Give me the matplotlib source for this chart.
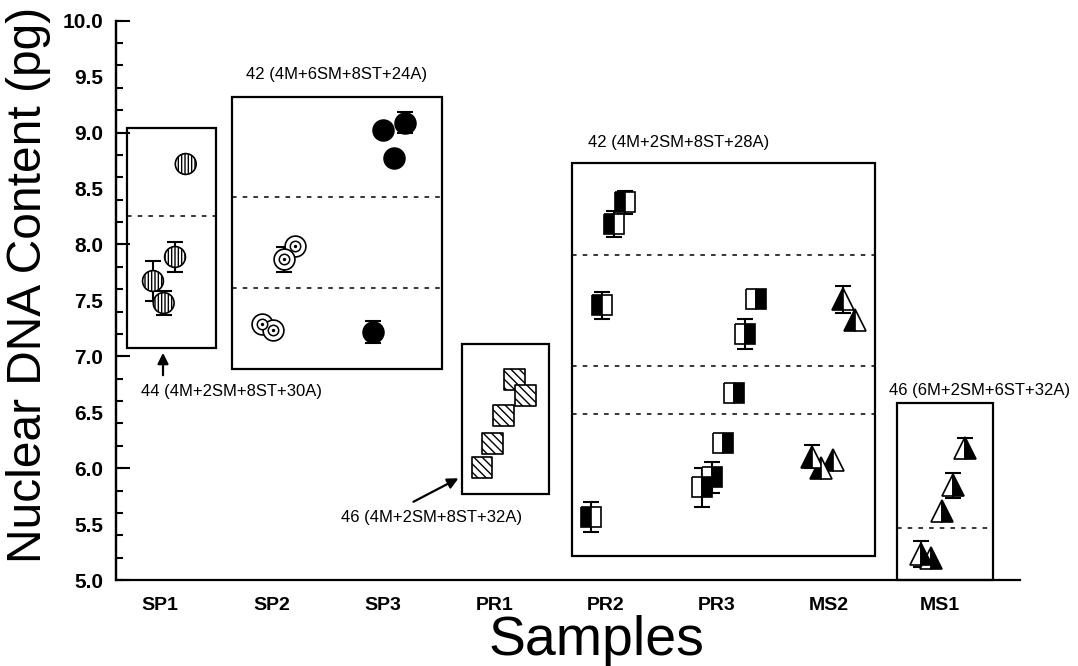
import numpy as np
import matplotlib
matplotlib.use("Agg")
import matplotlib.pyplot as plt
from matplotlib.patches import Rectangle

plt.rcParams['font.family'] = ['Liberation Sans', 'DejaVu Sans']
plt.rcParams['hatch.linewidth'] = 1.0

# ---------------- data ----------------
categories = ["SP1", "SP2", "SP3", "PR1", "PR2", "PR3", "MS2", "MS1"]

sp1_x = [0.231, 0.135, -0.063, 0.033]
sp1_y = [8.719, 7.888, 7.673, 7.476]
sp1_err = [0.0, 0.13, 0.183, 0.107]

sp2_x = [1.212, 1.116, 0.918, 1.014]
sp2_y = [7.986, 7.867, 7.286, 7.235]
sp2_err = [0.0, 0.112, 0.0, 0.0]

sp3_x = [2.004, 2.199, 2.100, 1.909]
sp3_y = [9.020, 9.088, 8.770, 7.220]
sp3_err = [0.0, 0.094, 0.0, 0.098]

pr1_x = [3.183, 3.282, 3.084, 2.986, 2.890]
pr1_y = [6.791, 6.648, 6.469, 6.218, 6.004]

pr2_x = [4.173, 4.072, 3.969, 3.871]
pr2_y = [8.377, 8.185, 7.456, 5.566]
pr2_err = [0.104, 0.116, 0.119, 0.134]

pr3_x = [5.349, 5.250, 5.151, 5.052, 4.861, 4.957]
pr3_y = [7.512, 7.199, 6.669, 6.222, 5.829, 5.918]
pr3_err = [0.0, 0.134, 0.0, 0.0, 0.176, 0.139]

ms2_x = [6.132, 6.237, 5.849, 5.938, 6.037]
ms2_y = [7.508, 7.324, 6.102, 5.999, 6.073]
ms2_err = [0.123, 0.0, 0.104, 0.0, 0.0]

ms1_x = [7.224, 7.119, 7.024, 6.827, 6.925]
ms1_y = [6.177, 5.845, 5.614, 5.234, 5.194]
ms1_err = [0.09, 0.114, 0.0, 0.114, 0.0]

# group boxes: (x0, x1, y0, y1), dashed divider levels
boxes = [
    ((-0.296, 0.503, 7.074, 9.041), [8.254]),
    ((0.646, 2.531, 6.886, 9.318), [8.424, 7.610]),
    ((2.710, 3.491, 5.769, 7.110), []),
    ((3.697, 6.417, 5.215, 8.728), [7.905, 6.913, 6.484]),
    ((6.614, 7.476, 5.0, 6.582), [5.465]),
]
karyotype_labels = ["42 (4M+6SM+8ST+24A)", "42 (4M+2SM+8ST+28A)",
                    "44 (4M+2SM+8ST+30A)", "46 (4M+2SM+8ST+32A)",
                    "46 (6M+2SM+6ST+32A)"]

# ---------------- figure ----------------
fig = plt.figure(figsize=(10.78, 6.66), dpi=100)
ax = fig.add_axes([0.1076, 0.1291, 0.8386, 0.8398])
ax.set_xlim(-0.395, 7.72)
ax.set_ylim(5.0, 10.0)

for s in ['top', 'right']:
    ax.spines[s].set_visible(False)
for s in ['left', 'bottom']:
    ax.spines[s].set_linewidth(1.6)

# boxes
for (x0, x1, y0, y1), dashes in boxes:
    ax.add_patch(Rectangle((x0, y0), x1 - x0, y1 - y0, fill=False,
                           edgecolor='black', linewidth=1.6, zorder=2,
                           clip_on=False))
    for d in dashes:
        ax.plot([x0, x1], [d, d], color='black', linewidth=1.1,
                linestyle=(0, (3, 4)), zorder=2)

def ebars(x, y, e):
    x = np.asarray(x); y = np.asarray(y); e = np.asarray(e)
    m = e > 0
    if m.any():
        ax.errorbar(x[m], y[m], yerr=e[m], fmt='none', ecolor='black',
                    elinewidth=1.5, capsize=6, capthick=1.5, zorder=3)

MS = 15

# SP1 - vertically hatched circles
ebars(sp1_x, sp1_y, sp1_err)
ax.scatter(sp1_x, sp1_y, s=MS**2, marker='o', facecolors='white',
           edgecolors='black', hatch='|||||', linewidths=1.2, zorder=4)

# SP2 - concentric circles
ebars(sp2_x, sp2_y, sp2_err)
ax.scatter(sp2_x, sp2_y, s=MS**2, marker='o', facecolors='white',
           edgecolors='black', linewidths=1.2, zorder=4)
ax.scatter(sp2_x, sp2_y, s=7.5**2, marker='o', facecolors='white',
           edgecolors='black', linewidths=1.1, zorder=5)
ax.scatter(sp2_x, sp2_y, s=2.0, marker='o', facecolors='black',
           edgecolors='black', zorder=6)

# SP3 - filled circles
ebars(sp3_x, sp3_y, sp3_err)
ax.scatter(sp3_x, sp3_y, s=MS**2, marker='o', facecolors='black',
           edgecolors='black', linewidths=1.2, zorder=4)

# PR1 - diagonally hatched squares
ax.scatter(pr1_x, pr1_y, s=MS**2, marker='s', facecolors='white',
           edgecolors='black', hatch='\\\\\\\\', linewidths=1.2, zorder=4)

# PR2 - squares, left black
ebars(pr2_x, pr2_y, pr2_err)
ax.plot(pr2_x, pr2_y, linestyle='none', marker='s', markersize=MS,
        fillstyle='left', markerfacecolor='black',
        markerfacecoloralt='white', markeredgecolor='black',
        markeredgewidth=1.2, zorder=4)

# PR3 - squares, right black
ebars(pr3_x, pr3_y, pr3_err)
ax.plot(pr3_x, pr3_y, linestyle='none', marker='s', markersize=MS,
        fillstyle='left', markerfacecolor='white',
        markerfacecoloralt='black', markeredgecolor='black',
        markeredgewidth=1.2, zorder=4)

# MS2 - triangles, left black
ebars(ms2_x, ms2_y, ms2_err)
ax.plot(ms2_x, ms2_y, linestyle='none', marker='^', markersize=MS + 1,
        fillstyle='left', markerfacecolor='black',
        markerfacecoloralt='white', markeredgecolor='black',
        markeredgewidth=1.2, zorder=4)

# MS1 - triangles, right black
ebars(ms1_x, ms1_y, ms1_err)
ax.plot(ms1_x, ms1_y, linestyle='none', marker='^', markersize=MS + 1,
        fillstyle='left', markerfacecolor='white',
        markerfacecoloralt='black', markeredgecolor='black',
        markeredgewidth=1.2, zorder=4)

# annotations
tkw = dict(fontsize=12, ha='center', va='center', clip_on=False)
ax.text(1.588, 9.515, karyotype_labels[0], **tkw)
ax.text(4.658, 8.907, karyotype_labels[1], **tkw)
ax.text(0.646, 6.681, karyotype_labels[2], **tkw)
ax.text(2.436, 5.563, karyotype_labels[3], **tkw)
ax.text(7.359, 6.69, karyotype_labels[4], **tkw)

akw = dict(arrowstyle='-|>', color='black', lw=1.6, mutation_scale=16)
ax.annotate('', xy=(0.027, 7.056), xytext=(0.027, 6.806), arrowprops=akw)
ax.annotate('', xy=(2.701, 5.921), xytext=(2.253, 5.688), arrowprops=akw)

# ticks
ax.set_xticks(range(len(categories)))
ax.set_xticklabels(categories, fontsize=14, fontweight='bold')
ax.tick_params(axis='x', length=0, pad=12)

ax.set_yticks(np.arange(5.0, 10.01, 0.5))
ax.set_yticklabels([f"{v:.1f}" for v in np.arange(5.0, 10.01, 0.5)],
                   fontsize=15, fontweight='bold')
ax.set_yticks(np.arange(5.0, 10.01, 0.2), minor=True)
ax.yaxis.remove_overlapping_locs = False
ax.tick_params(axis='y', which='major', length=0, pad=9)
ax.tick_params(axis='y', which='minor', length=5, width=1.5, direction='in')

sec = ax.secondary_yaxis('left')
sec.set_yticks(np.arange(5, 11, 1))
sec.tick_params(axis='y', length=10, width=1.5, direction='in',
                labelleft=False)
sec.spines['left'].set_linewidth(1.6)

fig.text(0.026, 0.573, "Nuclear DNA Content (pg)", rotation=90,
         fontsize=34.5, ha='center', va='center')
fig.text(0.553, 0.0165, "Samples", fontsize=40, ha='center', va='baseline')

fig.savefig("out.png", dpi=100)
